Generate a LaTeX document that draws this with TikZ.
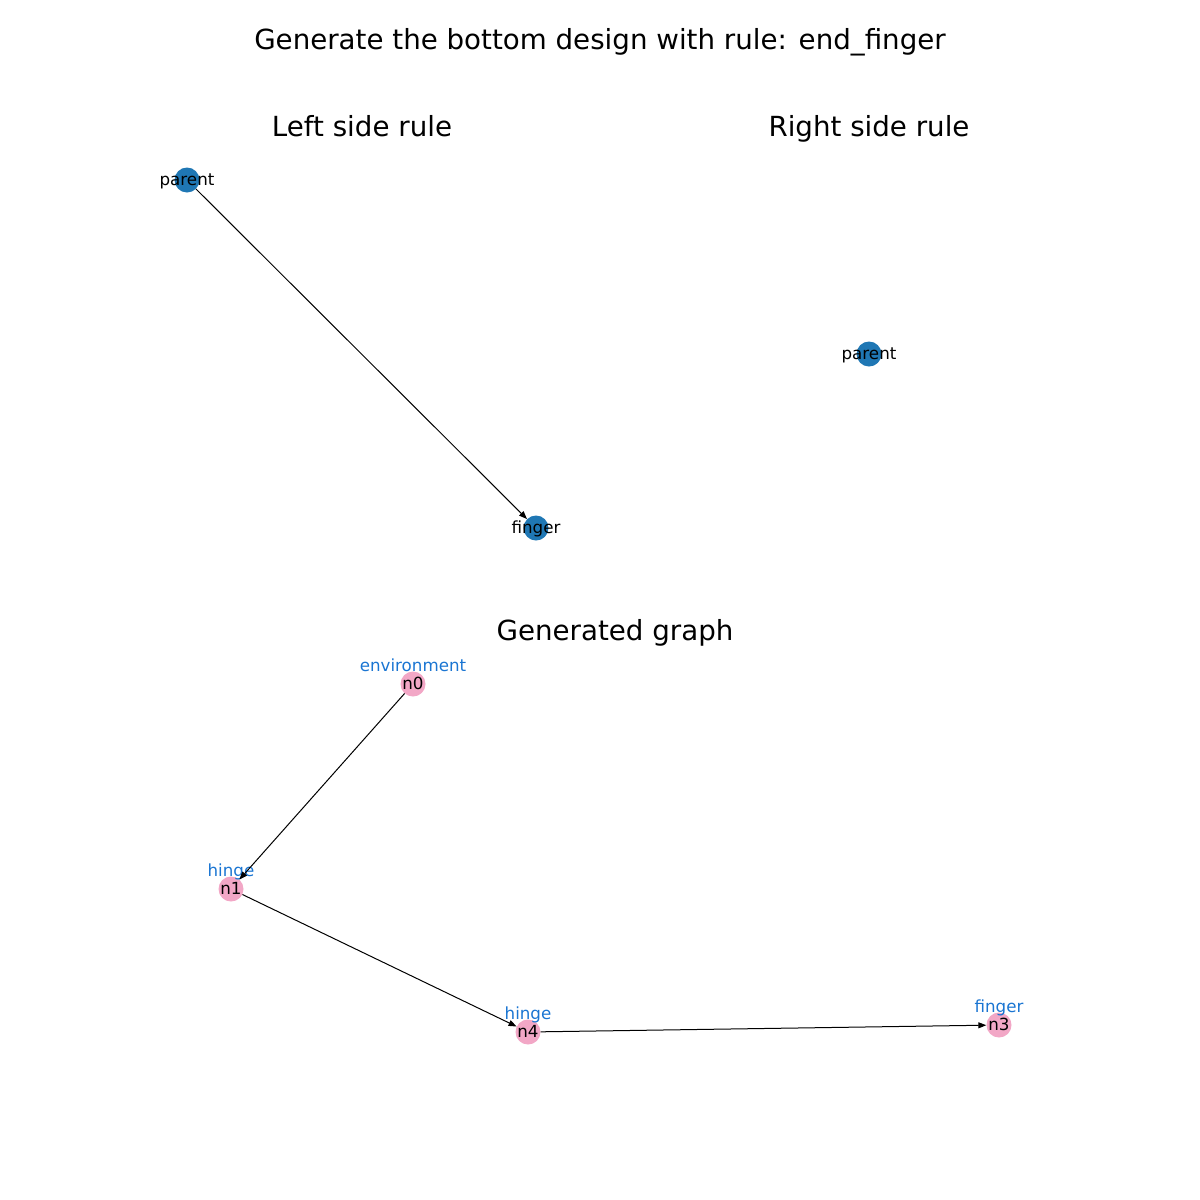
\documentclass[tikz,border=0pt]{standalone}
\usepackage{fontspec}
\setmainfont{DejaVu Sans}
\usetikzlibrary{arrows.meta}
\definecolor{nodeblue}{HTML}{1F77B4}
\definecolor{nodepink}{HTML}{F2A7C6}
\definecolor{typeblue}{HTML}{1A75D2}

\begin{document}
\begin{tikzpicture}[
    x=1pt, y=-1pt,
    title/.style={font=\fontsize{27.7}{30}\selectfont, inner sep=0, anchor=base},
    rulenode/.style={circle, fill=nodeblue, minimum size=25pt, inner sep=0},
    graphnode/.style={circle, fill=nodepink, minimum size=25pt, inner sep=0},
    inlbl/.style={font=\fontsize{16.7}{18}\selectfont, text height=12pt, text depth=4pt, yshift=-1.5pt, inner sep=0},
    typelbl/.style={font=\fontsize{16.7}{18}\selectfont, text=typeblue, text height=12pt, text depth=4pt, yshift=17pt, inner sep=0},
    arr/.style={-{Triangle[length=8pt, width=6pt]}, line width=1pt}
  ]
    \useasboundingbox (0,0) rectangle (1200,1200);
    \node[title] (maintitle) at (600,49.5) {Generate the bottom design with rule: end\_finger};
    \node[title] (lefttitle) at (362,136) {Left side rule};
    \node[title] (righttitle) at (869,136) {Right side rule};
    \node[title] (gentitle) at (615,640) {Generated graph};
    % left side rule
    \node[rulenode, label={[inlbl]center:parent}] (lparent) at (187,180) {};
    \node[rulenode, label={[inlbl]center:finger}] (lfinger) at (536,528) {};
    \draw[arr] (lparent) -- (lfinger);
    % right side rule
    \node[rulenode, label={[inlbl]center:parent}] (rparent) at (869,354) {};
    % generated graph
    \node[graphnode, label={[inlbl]center:n0}, label={[typelbl]center:environment}] (n0) at (413,684) {};
    \node[graphnode, label={[inlbl]center:n1}, label={[typelbl]center:hinge}] (n1) at (231,889) {};
    \node[graphnode, label={[inlbl]center:n4}, label={[typelbl]center:hinge}] (n4) at (528,1032) {};
    \node[graphnode, label={[inlbl]center:n3}, label={[typelbl]center:finger}] (n3) at (999,1025) {};
    \draw[arr] (n0) -- (n1);
    \draw[arr] (n1) -- (n4);
    \draw[arr] (n4) -- (n3);
\end{tikzpicture}
\end{document}
